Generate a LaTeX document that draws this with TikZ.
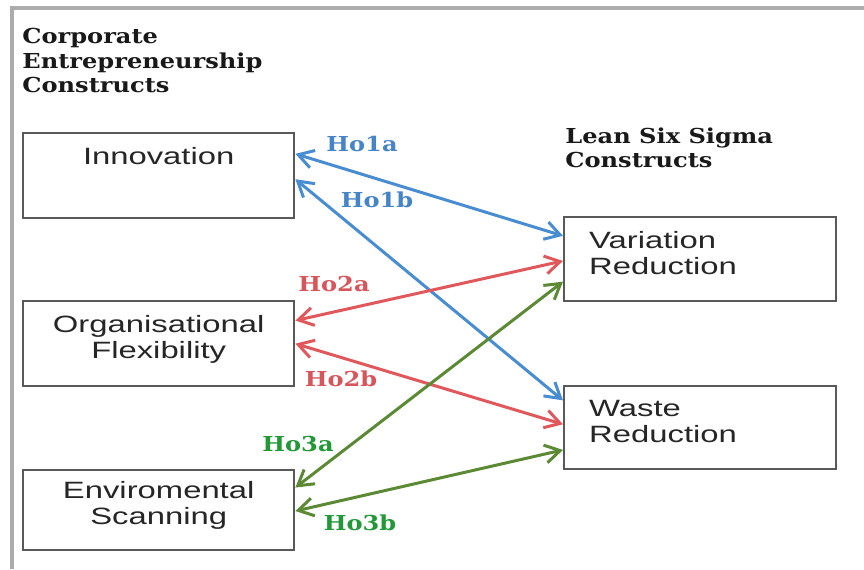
\documentclass[tikz,border=0pt]{standalone}
\usepackage{fontspec}
\usepackage{tikz}
\usetikzlibrary{positioning, arrows.meta, calc}

\newfontfamily\boxfont[FakeStretch=1.39]{Liberation Sans}
\newfontfamily\headfont[FakeStretch=1.17]{DejaVu Serif}

\definecolor{hoblue}{RGB}{72,140,210}
\definecolor{hored}{RGB}{224,88,92}
\definecolor{hogreen}{RGB}{92,138,52}
\definecolor{hoblueText}{RGB}{70,132,200}
\definecolor{horedText}{RGB}{214,86,92}
\definecolor{hogreenText}{RGB}{34,152,56}

\begin{document}
\begin{tikzpicture}[
    x=0.5pt, y=-0.5pt,
    construct/.style={draw=black!65, line width=1.2pt, fill=white, anchor=north west,
                      font=\boxfont\fontsize{11.8}{13}\selectfont, text=black!85,
                      text depth=7pt, inner sep=0pt},
    lss/.style={construct, align=left, text width=111pt, inner xsep=12.5pt, text depth=19pt},
    ce/.style={construct, align=center, minimum width=135.5pt},
    heading/.style={anchor=north west, inner sep=0pt, align=left,
                    font=\headfont\bfseries\fontsize{10.3}{12.25}\selectfont, text=black!90},
    hyp/.style={inner sep=0pt, font=\headfont\bfseries\fontsize{10.3}{12.25}\selectfont},
    link/.style={{Straight Barb[length=7.5pt,width=9pt]}-{Straight Barb[length=7.5pt,width=9pt]},
                 line width=1.5pt}
]
\useasboundingbox (0,0) rectangle (864,569);
% shadowed frame
\draw[gray!65, line width=2pt] (12,569) -- (12,8) -- (864,8);

\node[heading] (cehead) at (22,28) {Corporate\\Entrepreneurship\\Constructs};
\node[heading] (lsshead) at (565,127) {Lean Six Sigma\\Constructs};

\node[ce, minimum height=42.5pt] (innov) at (22,132) {Innovation\\\mbox{}};
\node[ce, minimum height=42.5pt] (flex) at (22,300) {Organisational\\Flexibility};
\node[ce, minimum height=40pt] (scan) at (22,469) {Enviromental\\Scanning};
\node[lss, minimum height=42pt] (var) at (563,216) {Variation\\Reduction};
\node[lss, minimum height=41.5pt] (waste) at (563,385) {Waste\\Reduction};

% hypotheses: from/fraction/to/fraction/colour
\foreach \a/\fa/\b/\fb/\c in {innov/0.25/var/0.23/hoblue, innov/0.54/waste/0.18/hoblue,
                               flex/0.235/var/0.52/hored, flex/0.5/waste/0.46/hored,
                               scan/0.225/var/0.76/hogreen, scan/0.51/waste/0.76/hogreen}{
  \draw[link, \c] ($(\a.north east)!\fa!(\a.south east)$) -- ($(\b.north west)!\fb!(\b.south west)$);
}

\node[hyp, text=hoblueText] (h1a) at (362,144) {Ho1a};
\node[hyp, text=hoblueText] (h1b) at (377,200) {Ho1b};
\node[hyp, text=horedText] (h2a) at (334,284) {Ho2a};
\node[hyp, text=horedText] (h2b) at (341,379) {Ho2b};
\node[hyp, text=hogreenText] (h3a) at (298,444) {Ho3a};
\node[hyp, text=hogreenText] (h3b) at (360,523) {Ho3b};
\end{tikzpicture}
\end{document}
